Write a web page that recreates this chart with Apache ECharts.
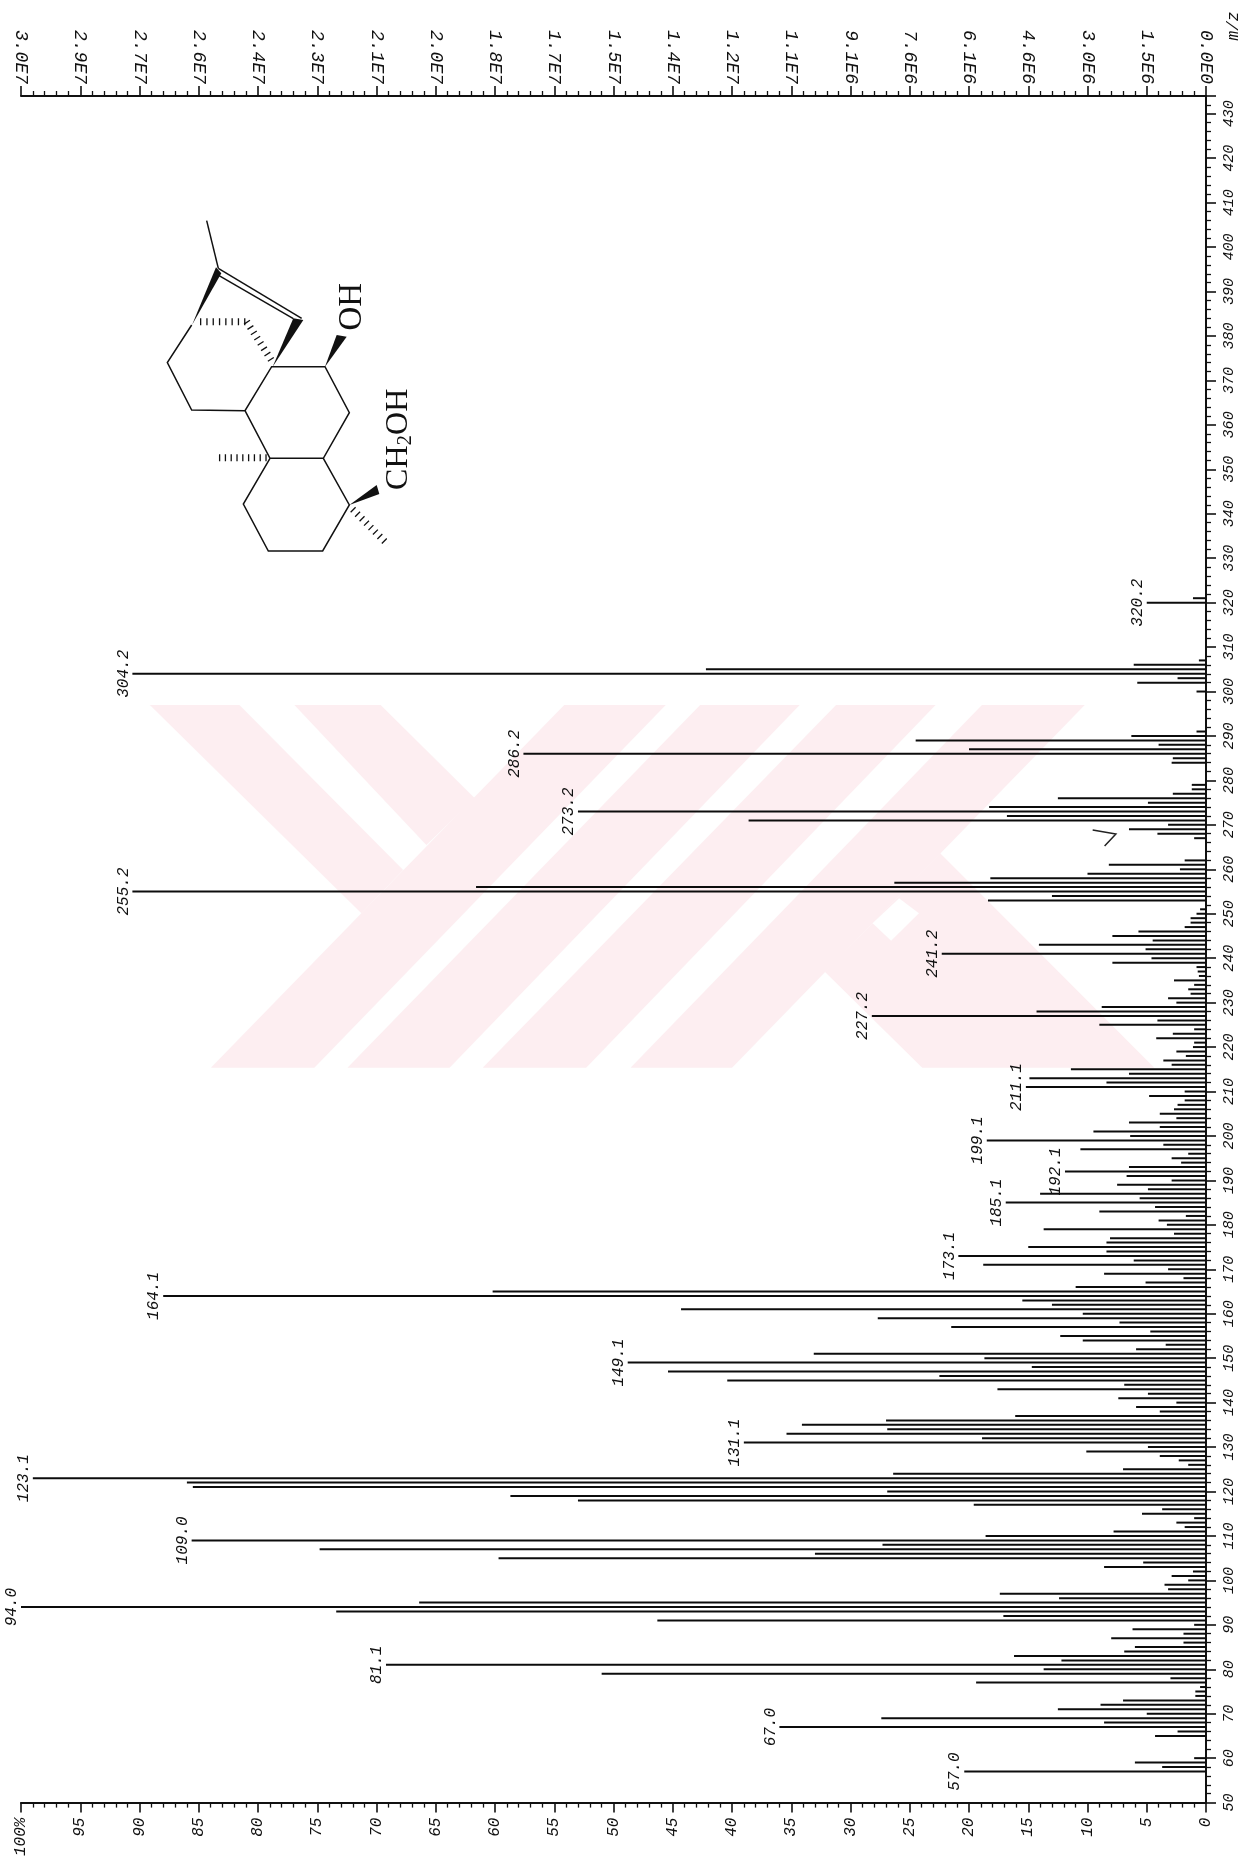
<!DOCTYPE html>
<html>
<head>
<meta charset="utf-8">
<style>html,body{margin:0;padding:0;background:#fff}#c{width:1242px;height:1859px}</style>
<script src="https://cdn.jsdelivr.net/npm/echarts@6/dist/echarts.min.js"></script>
</head>
<body>
<div id="c"></div>
<script>
const mzValues = [57,58,59,60,65,66,67,68,69,70,71,72,73,74,75,76,77,78,79,80,81,82,83,84,85,86,87,88,89,90,91,92,93,94,95,96,97,98,99,100,101,102,103,104,105,106,107,108,109,110,111,112,113,114,115,116,117,118,119,120,121,122,123,124,125,126,127,128,129,130,131,132,133,134,135,136,137,138,139,140,141,142,143,144,145,146,147,148,149,150,151,152,153,154,155,156,157,158,159,160,161,162,163,164,165,166,167,168,169,170,171,172,173,174,175,176,177,178,179,180,181,182,183,184,185,186,187,188,189,190,191,192,193,194,195,196,197,198,199,200,201,202,203,204,205,206,207,208,209,210,211,212,213,214,215,216,217,218,219,220,221,222,223,224,225,226,227,228,229,230,231,232,233,234,235,236,237,238,239,240,241,242,243,244,245,246,247,248,249,250,251,253,254,255,256,257,258,259,260,261,262,267,268,269,270,271,272,273,274,275,276,277,278,279,284,285,286,287,288,289,290,291,300,302,303,304,305,306,307,320,321];
const intensity = [20.4,3.7,6,1,4.3,2.4,36,8.6,27.4,5,12.5,8.9,7,0.9,0.9,0.5,19.4,3,51,13.7,69.2,12.2,16.2,6.9,6,1.9,8,1.9,6.2,1,46.3,17.1,73.4,100,66.4,12.4,17.4,3.2,3.5,1.5,2.9,1.1,8.6,5.3,59.7,33,74.8,27.3,85.6,18.6,7.8,1.8,2.5,1,5.4,3.7,19.6,53,58.7,26.9,85.5,86,99,26.4,7,1.5,2.3,3.9,10.1,4.9,39,18.9,35.4,26.9,34.1,27,16.1,3.9,5.9,2.5,7.4,4.9,17.6,6.9,40.4,22.5,45.4,14.7,48.8,18.7,33.1,5.9,3.4,10.4,12.3,4.7,21.5,7.3,27.7,10.4,44.3,13,15.5,88,60.2,11,5.1,1.9,8.6,3.2,18.8,6.1,20.9,8.4,15,8.4,8.1,2.7,13.7,3.3,4,1.7,9,4.3,16.9,5.6,14,4.9,7.5,2.9,6.7,11.9,6.5,2.1,2.9,1.5,10.6,3.6,18.5,6.4,9.5,3.9,6.5,2.5,3.9,2.7,2.4,1.8,4.8,1.8,15.2,8.4,14.9,6.5,11.4,2.9,3.6,1.7,2.5,1.1,1,4.2,2.8,1,9,4.1,28.2,14.3,8.8,2.5,3.2,1.3,1.5,1,2.7,0.6,0.7,0.8,7.9,4.6,22.3,5.1,14.1,4.5,7.9,5.7,1.8,1.3,1.3,0.8,0.5,18.4,13,90.6,61.6,26.3,18.2,10,2.2,8.2,1.8,1,4.1,6.5,3.2,38.6,16.8,53,18.3,4.9,12.5,2.8,1.2,1.2,2.9,2.8,57.6,20,4,24.5,6.3,0.8,0.8,5.8,2.4,90.6,42.2,6.1,0.6,5,1.1];
const peakMz = [57,67,81,94,109,123,131,149,164,173,185,192,199,211,227,241,255,273,286,304,320];
const peakLabels = ["57.0","67.0","81.1","94.0","109.0","123.1","131.1","149.1","164.1","173.1","185.1","192.1","199.1","211.1","227.2","241.2","255.2","273.2","286.2","304.2","320.2"];
const absTicks = ["0.0E0","1.5E6","3.0E6","4.6E6","6.1E6","7.6E6","9.1E6","1.1E7","1.2E7","1.4E7","1.5E7","1.7E7","1.8E7","2.0E7","2.1E7","2.3E7","2.4E7","2.6E7","2.7E7","2.9E7","3.0E7"];
const mzMin = 50, mzMax = 434;

const categories = [];
for (let m = mzMin; m <= mzMax; m++) categories.push(m);
const monoFont = '"Liberation Mono","DejaVu Sans Mono",monospace';

const barData = categories.map(m => {
  const i = mzValues.indexOf(m);
  const v = i < 0 ? 0 : intensity[i];
  const p = peakMz.indexOf(m);
  if (p < 0) return v;
  return {value: v, label: {show: true, formatter: peakLabels[p], position: 'left', distance: 9,
    rotate: 90, align: 'center', verticalAlign: 'middle', color: '#111',
    fontFamily: monoFont, fontStyle: 'italic', fontSize: 16}};
});

// drawing helpers for the annotations (structure, watermark)
const S = (x, y) => [130 + x / 3, 190 + y / 3];
const W = (x, y) => [130 + x * 0.663, 690 + y / 3];
const pts = (f, a) => a.map(p => f(p[0], p[1]));
const wmColor = '#fdeef1';
const wmPolys = [
  [[122,1133],[278,1133],[808,45],[655,45]],
  [[328,1133],[482,1133],[1010,45],[860,45]],
  [[532,1133],[688,1133],[1215,45],[1065,45]],
  [[755,1133],[908,1133],[1440,45],[1285,45]],
  [[30,45],[165,45],[412,540],[349,670]],
  [[248,45],[378,45],[520,325],[447,465]],
  [[1048,845],[1195,1133],[1545,1133],[1222,490],[1120,700]]
];
const graphics = wmPolys.map(p => ({type:'polygon', z:0, silent:true, shape:{points:pts(W,p)}, style:{fill:wmColor}}));
graphics.push({type:'polygon', z:0, silent:true, shape:{points:pts(W,[[1120,700],[1160,625],[1190,670],[1148,752]])}, style:{fill:'#ffffff'}});

const bonds = [
  [[230,92],[265,235]],
  [[265,235],[515,385]],
  [[262,254],[490,386]],
  [[185,405],[112,518],[185,660],[345,662],[425,530],[585,530],[658,668],[580,805],[420,805],[345,662]],
  [[420,805],[340,942],[415,1083],[578,1083],[658,945],[580,805]]
];
bonds.forEach(b => graphics.push({type:'polyline', z:5, silent:true, shape:{points:pts(S,b)}, style:{stroke:'#111', lineWidth:1.5, fill:'none'}}));
const wedges = [
  [[258,232],[274,250],[186,405]],
  [[490,385],[520,390],[428,530]],
  [[585,530],[620,435],[650,440]],
  [[658,945],[740,885],[748,912]]
];
wedges.forEach(w => graphics.push({type:'polygon', z:5, silent:true, shape:{points:pts(S,w)}, style:{fill:'#111'}}));
const hashes = [
  [[210,395],[350,395],7,[1.3,5]],
  [[350,395],[425,512],7,[1.3,5]],
  [[410,803],[262,803],7,[1.3,4.5]],
  [[668,958],[775,1065],7,[1.3,5]]
];
hashes.forEach(h => graphics.push({type:'line', z:5, silent:true,
  shape:{x1:S(...h[0])[0], y1:S(...h[0])[1], x2:S(...h[1])[0], y2:S(...h[1])[1]},
  style:{stroke:'#111', lineWidth:h[2], lineDash:h[3]}}));
graphics.push({type:'text', z:5, silent:true, x:S(668,350)[0], y:S(668,350)[1], rotation:Math.PI/2,
  style:{text:'OH', fill:'#111', font:'33px "Liberation Serif",serif', align:'center', verticalAlign:'middle'}});
graphics.push({type:'text', z:5, silent:true, x:S(807,748)[0], y:S(807,748)[1], rotation:Math.PI/2,
  style:{text:'CH{s|2}OH', fill:'#111', font:'32px "Liberation Serif",serif', align:'center', verticalAlign:'middle',
    rich:{s:{fontSize:21, fontFamily:'"Liberation Serif",serif', padding:[12,0,0,0], fill:'#111'}}}});
graphics.push({type:'text', z:5, silent:true, x:1234, y:26, rotation:Math.PI/2,
  style:{text:'m/z', fill:'#111', font:'italic 16px '+monoFont, align:'center', verticalAlign:'middle'}});
graphics.push({type:'polyline', z:5, silent:true, shape:{points:pts(W,[[1452,420],[1487,432],[1470,468]])}, style:{stroke:'#222', lineWidth:1.5, fill:'none'}});

const lineS = {show:true, onZero:false, lineStyle:{color:'#111', width:2}};
const tickS = {show:true, length:10, lineStyle:{color:'#111', width:1.6}};
const minorS = (n) => ({show:true, splitNumber:n, length:5, lineStyle:{color:'#111', width:1.3}});

const chart = echarts.init(document.getElementById('c'), null, {renderer:'canvas'});
chart.setOption({
  animation:false,
  backgroundColor:'#fff',
  graphic:{elements:graphics},
  grid:{left:21, right:36, top:96, bottom:51.5, containLabel:false},
  xAxis:[
    {type:'value', min:0, max:100, interval:5, inverse:true, position:'bottom',
     axisLine:lineS, axisTick:tickS, minorTick:minorS(5), splitLine:{show:false},
     axisLabel:{rotate:90, margin:15, color:'#111', fontFamily:monoFont, fontStyle:'italic', fontSize:16,
       formatter:v => v === 100 ? '100%' : String(v)}},
    {type:'value', min:0, max:100, interval:5, inverse:true, position:'top',
     axisLine:lineS, axisTick:tickS, minorTick:minorS(5), splitLine:{show:false},
     axisLabel:{rotate:90, margin:12, color:'#111', fontFamily:monoFont, fontStyle:'italic', fontSize:18,
       formatter:v => absTicks[Math.round(v/5)]}}
  ],
  yAxis:[
    {type:'category', data:categories, boundaryGap:false, show:false},
    {type:'value', min:mzMin, max:mzMax, interval:10, position:'right',
     axisLine:lineS, axisTick:tickS, minorTick:minorS(5), splitLine:{show:false},
     axisLabel:{rotate:90, margin:16, color:'#111', fontFamily:monoFont, fontStyle:'italic', fontSize:15,
       formatter:v => v % 10 === 0 ? String(v) : ''}}
  ],
  series:[{
    type:'bar', xAxisIndex:0, yAxisIndex:0, data:barData, barWidth:2, z:3,
    itemStyle:{color:'#0c0c0c'}, silent:true
  }]
});
</script>
</body>
</html>
